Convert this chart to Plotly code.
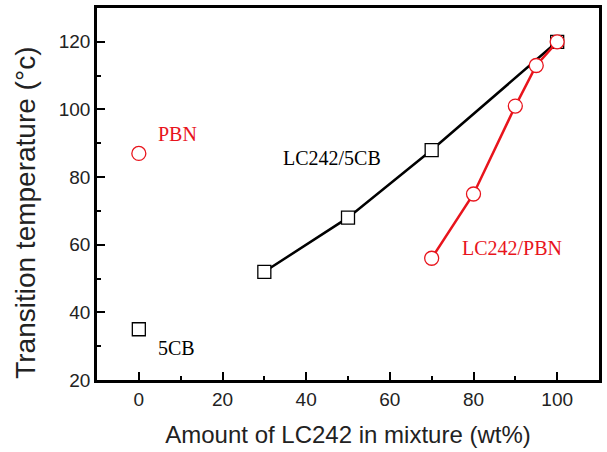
import plotly.graph_objects as go

# Data
x_5cb_mix = [30, 50, 70, 100]
y_5cb_mix = [52, 68, 88, 120]
x_pbn_mix = [70, 80, 90, 95, 100]
y_pbn_mix = [56, 75, 101, 113, 120]
x_5cb_pure = [0]
y_5cb_pure = [35]
x_pbn_pure = [0]
y_pbn_pure = [87]
x_ticks = [0, 20, 40, 60, 80, 100]
y_ticks = [20, 40, 60, 80, 100, 120]

RED = "#e8141c"
fig = go.Figure()
fig.add_trace(go.Scatter(x=x_5cb_mix, y=y_5cb_mix, mode="lines+markers",
                         line=dict(color="black", width=2.5),
                         marker=dict(symbol="square", size=13, color="white",
                                     line=dict(color="black", width=1.3))))
fig.add_trace(go.Scatter(x=x_pbn_mix, y=y_pbn_mix, mode="lines+markers",
                         line=dict(color=RED, width=2.5),
                         marker=dict(symbol="circle", size=14, color="white",
                                     line=dict(color=RED, width=1.3))))
fig.add_trace(go.Scatter(x=x_5cb_pure, y=y_5cb_pure, mode="markers",
                         marker=dict(symbol="square", size=13, color="white",
                                     line=dict(color="black", width=1.3))))
fig.add_trace(go.Scatter(x=x_pbn_pure, y=y_pbn_pure, mode="markers",
                         marker=dict(symbol="circle", size=14, color="white",
                                     line=dict(color=RED, width=1.3))))

serif = "Liberation Serif, Times New Roman, serif"
sans = "Liberation Sans, Arial, sans-serif"
ann = [
    dict(x=4.2, y=92.6, text="PBN", color=RED),
    dict(x=34.1, y=85.6, text="LC242/5CB", color="black"),
    dict(x=76.8, y=59.1, text="LC242/PBN", color=RED),
    dict(x=4.2, y=29.4, text="5CB", color="black"),
]
for a in ann:
    fig.add_annotation(x=a["x"], y=a["y"], text=a["text"], showarrow=False,
                       xanchor="left", yanchor="middle",
                       font=dict(family=serif, size=20, color=a["color"]))

# y-axis title as a rotated annotation (positioned slightly below plot centre, as in the original)
fig.add_annotation(xref="paper", yref="paper", x=-0.143, y=0.45,
                   text="Transition temperature (°c)", textangle=-90, showarrow=False,
                   xanchor="center", yanchor="middle",
                   font=dict(family=sans, size=28, color="#222222"))

def axis_common():
    return dict(showline=True, linecolor="black", linewidth=2.5, mirror=True,
                ticks="inside", tickwidth=2, ticklen=8, tickcolor="black",
                showgrid=False, zeroline=False,
                tickfont=dict(family=sans, size=19, color="#222222"),
                minor=dict(dtick=10, ticks="inside", ticklen=4, tickwidth=2,
                           tickcolor="black", showgrid=False))

fig.update_xaxes(range=[-10, 110], tickmode="array", tickvals=x_ticks,
                 title=dict(text="Amount of LC242 in mixture (wt%)", standoff=18,
                            font=dict(family=sans, size=24, color="#222222")),
                 **axis_common())
fig.update_yaxes(range=[20, 130], tickmode="array", tickvals=y_ticks,
                 **axis_common())

fig.update_layout(width=607, height=452, showlegend=False,
                  margin=dict(l=97, r=5, t=7, b=72),
                  plot_bgcolor="white", paper_bgcolor="white")
fig.write_html("out.html")
